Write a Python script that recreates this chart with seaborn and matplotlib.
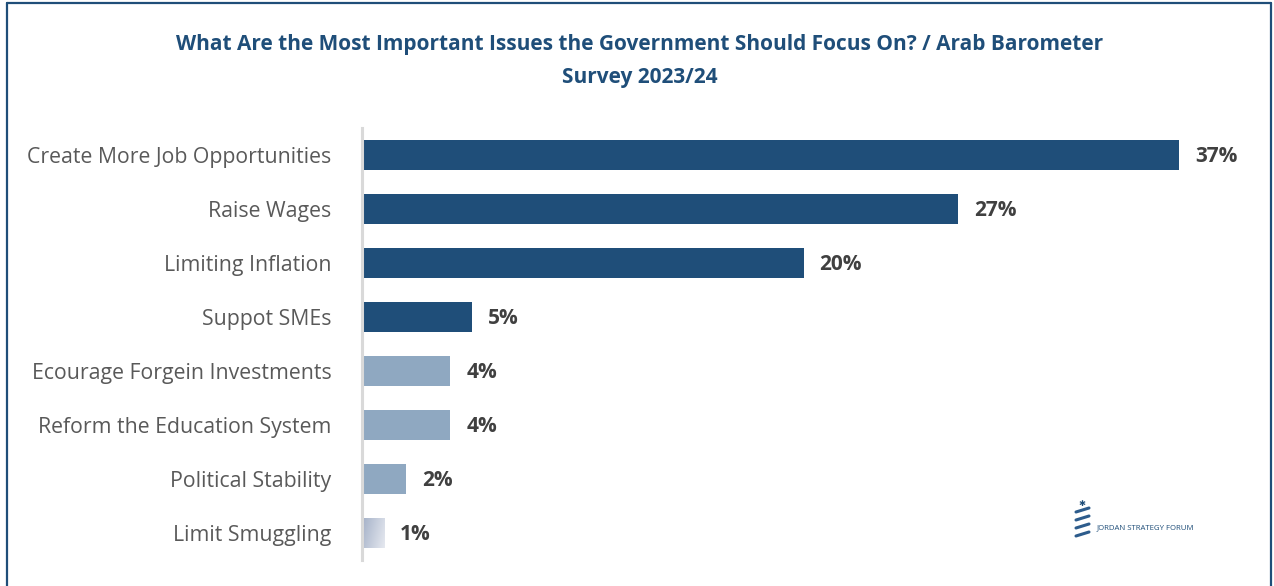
import numpy as np
import pandas as pd
import matplotlib
matplotlib.use("Agg")
import matplotlib.pyplot as plt
from matplotlib.lines import Line2D
from matplotlib.colors import LinearSegmentedColormap
import seaborn as sns

# Survey results
issues = [
    "Create More Job Opportunities",
    "Raise Wages",
    "Limiting Inflation",
    "Suppot SMEs",
    "Ecourage Forgein Investments",
    "Reform the Education System",
    "Political Stability",
    "Limit Smuggling",
]
shares = [37, 27, 20, 5, 4, 4, 2, 1]
groups = ["top", "top", "top", "top", "other", "other", "other", "faded"]

title = ("What Are the Most Important Issues the Government Should Focus On? / Arab Barometer\n"
         "Survey 2023/24")

DARK = "#1F4E79"
LIGHT = "#8FA8C1"

sns.set_theme(style="white")
plt.rcParams["font.family"] = ["Open Sans", "DejaVu Sans"]

df = pd.DataFrame({"issue": issues, "share": shares, "group": groups})

fig = plt.figure(figsize=(12.74, 5.86), dpi=100)
W, H = 1274, 586
ax = fig.add_axes([362 / W, 1 - 560 / H, 898 / W, (560 - 128) / H])

sns.barplot(data=df, y="issue", x="share", hue="group", orient="h",
            palette={"top": DARK, "other": LIGHT, "faded": "#C4CCDA"},
            dodge=False, width=0.56, legend=False, ax=ax, saturation=1,
            linewidth=0)

ax.set_xlim(0, 898 / 22.08)
ax.set_ylim(7.5, -0.5)
ax.set_xlabel("")
ax.set_ylabel("")
ax.set_xticks([])
for s in ["top", "right", "bottom"]:
    ax.spines[s].set_visible(False)
ax.spines["left"].set_color("#D9D9D9")
ax.spines["left"].set_linewidth(2.2)
ax.tick_params(axis="y", length=0, pad=22, labelsize=15.3, labelcolor="#595959")

# Soft gradient fill for the smallest bar
cmap = LinearSegmentedColormap.from_list("fade", ["#A3B0C7", "#E6E9F0"])
for patch in ax.patches:
    if abs(patch.get_width() - shares[-1]) < 1e-9 and patch.get_height() > 0:
        x0, y0 = patch.get_x(), patch.get_y()
        w, h = patch.get_width(), patch.get_height()
        gx, gy = np.meshgrid(np.linspace(0, 1, 64), np.linspace(0, 1, 64))
        grad = 0.75 * gx + 0.25 * gy
        im = ax.imshow(grad, cmap=cmap, extent=[x0, x0 + w, y0 + h, y0],
                       aspect="auto", zorder=patch.get_zorder() + 0.1,
                       interpolation="bilinear")
        im.set_clip_path(patch)
ax.set_xlim(0, 898 / 22.08)
ax.set_ylim(7.5, -0.5)

# Value labels
for i, v in enumerate(shares):
    ax.annotate(f"{v}%", xy=(v, i), xytext=(11.5, -1), textcoords="offset points",
                ha="left", va="center", fontsize=15, fontweight="bold",
                color="#404040")

fig.text(640 / W, 1 - 61 / H, title, ha="center", va="center", fontsize=15,
         fontweight="bold", color=DARK, linespacing=1.75)

# Frame on left, top and right
for xs, ys in [([7 / W, 7 / W], [0, 1 - 3 / H]),
               ([7 / W, 1271 / W], [1 - 3 / H, 1 - 3 / H]),
               ([1271 / W, 1271 / W], [0, 1 - 3 / H])]:
    fig.add_artist(Line2D(xs, ys, color=DARK, lw=1.6, transform=fig.transFigure))

# Forum mark
for k in range(4):
    y = 1 - (512 + k * 8) / H
    fig.add_artist(Line2D([1076 / W, 1089 / W], [y, y + 4 / H], color="#2D5C8C",
                          lw=2.2, transform=fig.transFigure, solid_capstyle="round"))
fig.text(1082 / W, 1 - 503 / H, "✱", fontsize=6, color=DARK, ha="center", va="center",
         family="DejaVu Sans")
fig.text(1097 / W, 1 - 528 / H, "JORDAN STRATEGY FORUM", fontsize=5.6, color=DARK,
         ha="left", va="center")

fig.savefig("out.png", dpi=100, facecolor="white")
